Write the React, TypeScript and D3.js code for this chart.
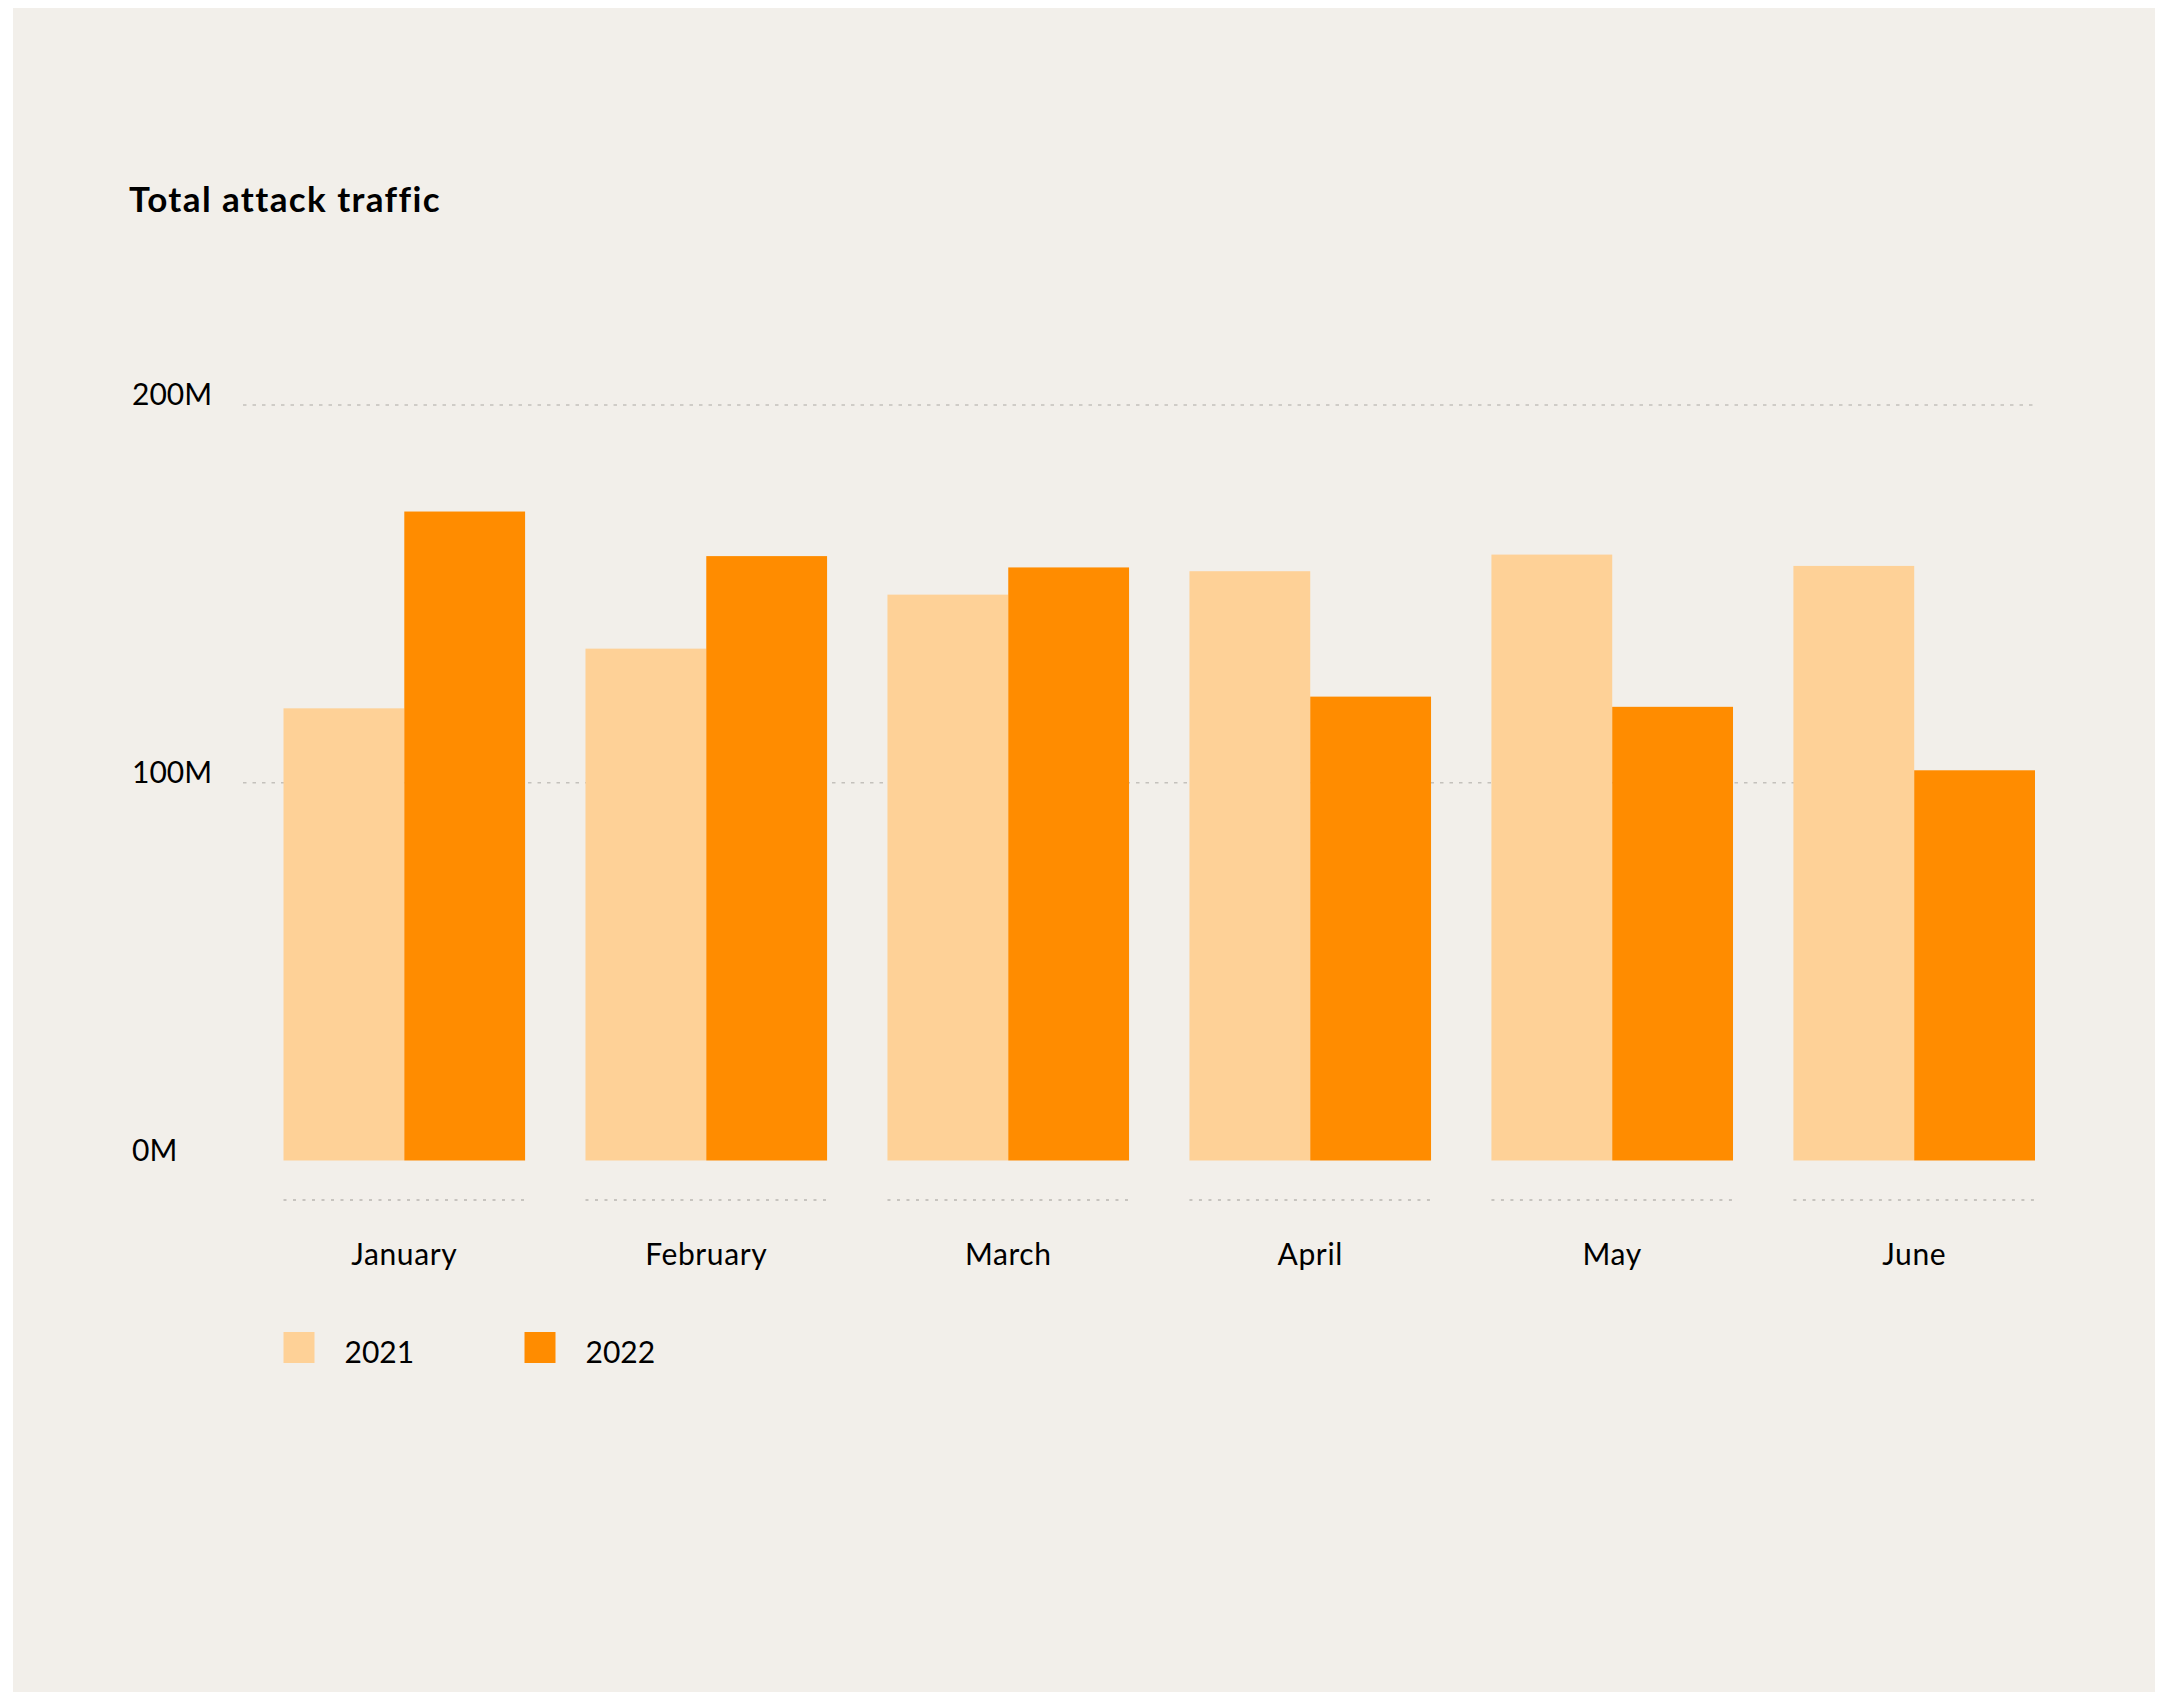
import React from "react";
import * as d3 from "d3";

const months = ["January", "February", "March", "April", "May", "June"];
const years = ["2021", "2022"];
const values2021 = [119.7, 135.5, 149.8, 156.0, 160.4, 157.4];
const values2022 = [171.8, 160.0, 157.0, 122.8, 120.1, 103.3];
const yTicks = [0, 100, 200];
const title = "Total attack traffic";

const W = 2166;
const H = 1693;
const colors: Record<string, string> = { "2021": "#FED197", "2022": "#FF8C00" };
const FONT = "Lato, 'Open Sans', 'Noto Sans', sans-serif";

export default function App() {
  const x0 = d3.scaleBand<string>().domain(months).range([283.5, 2035]).paddingInner(0.2).paddingOuter(0);
  const x1 = d3.scaleBand<string>().domain(years).range([0, x0.bandwidth()]).padding(0);
  const y = d3.scaleLinear().domain([0, 200]).range([1160.5, 405]);
  const series: Record<string, number[]> = { "2021": values2021, "2022": values2022 };

  return (
    <svg width={W} height={H} style={{ position: "absolute", left: 0, top: 0, display: "block" }}>
      <rect x={0} y={0} width={W} height={H} fill="#ffffff" />
      <rect x={13} y={8} width={2142} height={1684} fill="#F2EFEA" />
      <text
        x={129}
        y={212}
        fontFamily={FONT}
        fontWeight={700}
        fontSize={35}
        letterSpacing={1.4}
        style={{ fontVariantLigatures: "none" }}
        fill="#000"
      >
        {title}
      </text>
      {yTicks.map((t) => (
        <g key={t}>
          {t > 0 && (
            <line x1={243} x2={2035} y1={y(t)} y2={y(t)} stroke="#C4C1BC" strokeWidth={1.5} strokeDasharray="3.5 6" />
          )}
          <text x={132} y={y(t)} fontFamily={FONT} fontSize={30} fill="#000">
            {`${t}M`}
          </text>
        </g>
      ))}
      {months.map((m, i) => (
        <g key={m} transform={`translate(${x0(m)},0)`}>
          {years.map((yr) => (
            <rect
              key={yr}
              x={x1(yr)}
              y={y(series[yr][i])}
              width={x1.bandwidth()}
              height={y(0) - y(series[yr][i])}
              fill={colors[yr]}
            />
          ))}
          <line x1={0} x2={x0.bandwidth()} y1={1200} y2={1200} stroke="#B9B6B1" strokeWidth={1.5} strokeDasharray="3 6.5" />
          <text
            x={x0.bandwidth() / 2}
            y={1265}
            textAnchor="middle"
            fontFamily={FONT}
            fontSize={30}
            letterSpacing={0.6}
            fill="#000"
          >
            {m}
          </text>
        </g>
      ))}
      {years.map((yr, i) => (
        <g key={yr} transform={`translate(${283.5 + i * 241},0)`}>
          <rect x={0} y={1332} width={31} height={31} fill={colors[yr]} />
          <text x={61} y={1363} fontFamily={FONT} fontSize={30} fill="#000">
            {yr}
          </text>
        </g>
      ))}
    </svg>
  );
}
